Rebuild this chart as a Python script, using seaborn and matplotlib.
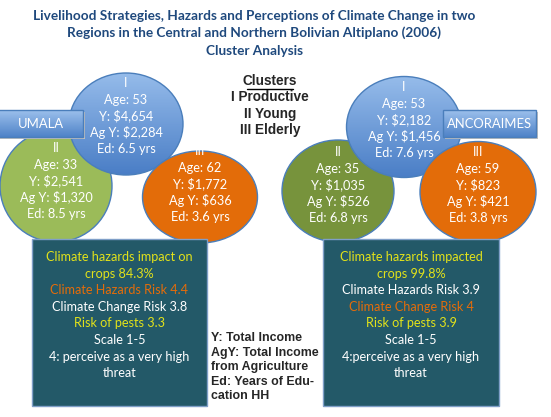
import numpy as np
import matplotlib
matplotlib.use("Agg")
import matplotlib.pyplot as plt
from matplotlib.patches import Ellipse, Rectangle
from matplotlib.colors import LinearSegmentedColormap
import seaborn as sns

# ---------------------------
# Data
# ---------------------------
title_lines = [
    "Livelihood Strategies, Hazards and Perceptions of Climate Change in two",
    "Regions in the Central and Northern Bolivian Altiplano (2006)",
    "Cluster Analysis",
]
regions = ["UMALA", "ANCORAIMES"]
clusters = ["I", "II", "III"]
cluster_names = ["I Productive", "II Young", "III Elderly"]

# UMALA clusters I, II, III
umala_age = [53, 33, 62]
umala_income = [4654, 2541, 1772]
umala_ag_income = [2284, 1320, 636]
umala_educ = [6.5, 8.5, 3.6]

# ANCORAIMES clusters I, II, III
anc_age = [53, 35, 59]
anc_income = [2182, 1035, 823]
anc_ag_income = [1456, 526, 421]
anc_educ = [7.6, 6.8, 3.8]

umala_perception = [
    ("Climate hazards impact on", "yellow"),
    ("crops 84.3%", "yellow"),
    ("Climate Hazards Risk 4.4", "orange"),
    ("Climate Change Risk 3.8", "white"),
    ("Risk of pests 3.3", "yellow"),
    ("Scale 1-5", "white"),
    ("4: perceive as a very high", "white"),
    ("threat", "white"),
]
anc_perception = [
    ("Climate hazards impacted", "yellow"),
    ("crops 99.8%", "yellow"),
    ("Climate Hazards Risk 3.9", "white"),
    ("Climate Change Risk 4", "orange"),
    ("Risk of pests 3.9", "yellow"),
    ("Scale 1-5", "white"),
    ("4:perceive as a very high", "white"),
    ("threat", "white"),
]
definitions = [
    "Y: Total Income",
    "AgY: Total Income",
    "from Agriculture",
    "Ed: Years of Edu-",
    "cation HH",
]

# ---------------------------
# Style / layout
# ---------------------------
sns.set_theme(style="white")
plt.rcParams["font.family"] = ["Lato", "DejaVu Sans"]

txt_col = {"yellow": "#E2E21A", "orange": "#E46C0A", "white": "#FFFFFF"}
blue_cmap = LinearSegmentedColormap.from_list("bl", ["#95BBEA", "#4A7EC6"])
box_cmap = LinearSegmentedColormap.from_list("bx", ["#9CC0EC", "#4F83C8"])

# ellipse geometry (cx, cy, w, h) per cluster for each region
umala_geo = [(126, 124, 114, 102), (56, 186, 112, 112), (200, 197, 115, 92)]
anc_geo = [(404, 127, 115, 101), (338, 191, 112, 102), (478, 192, 116, 101)]
umala_text_y = [83, 148, 151]
anc_text_y = [87, 152, 152]
fills_umala = ["blue", "#9BBB59", "#E36C09"]
fills_anc = ["blue", "#77933C", "#E36C09"]

fig = plt.figure(figsize=(5.51, 4.17), dpi=100)
ax = fig.add_axes([0, 0, 1, 1])


def grad_fill(patch, x0, x1, y0, y1, cmap, z):
    g = np.linspace(0, 1, 64).reshape(-1, 1)
    im = ax.imshow(g, extent=(x0, x1, y1, y0), origin="upper", cmap=cmap,
                   aspect="auto", zorder=z)
    im.set_clip_path(patch)


def draw_region(geo, fills, age, inc, ag, ed, text_y, label, lab_box):
    order = [1, 0, 2]  # green first, then blue, then orange on top
    for k, i in enumerate(order):
        cx, cy, w, h = geo[i]
        z = 2 + k
        if fills[i] == "blue":
            e = Ellipse((cx, cy), w, h, facecolor="none", edgecolor="#4A7EBB",
                        lw=1.0, zorder=z + 0.5)
            ax.add_patch(e)
            clip = Ellipse((cx, cy), w, h, transform=ax.transData)
            ax.add_patch(clip)
            clip.set_visible(False)
            grad_fill(clip, cx - w / 2, cx + w / 2, cy - h / 2, cy + h / 2,
                      blue_cmap, z)
        else:
            e = Ellipse((cx, cy), w, h, facecolor=fills[i], edgecolor="#4A7EBB",
                        lw=1.0, zorder=z)
            ax.add_patch(e)
        lines = [clusters[i], f"Age: {age[i]}", f"Y: ${inc[i]:,}",
                 f"Ag Y: ${ag[i]:,}", f"Ed: {ed[i]} yrs"]
        for j, s in enumerate(lines):
            ax.text(cx, text_y[i] + j * 16.6, s, color="white", fontsize=9.2,
                    ha="center", va="center", zorder=10)
    # region label box
    x0, y0, x1, y1 = lab_box
    ax.add_patch(Rectangle((x0 + 1.5, y0 + 2), x1 - x0, y1 - y0,
                           facecolor="#BFBFBF", edgecolor="none", zorder=7))
    r = Rectangle((x0, y0), x1 - x0, y1 - y0, facecolor="none",
                  edgecolor="#4A7EBB", lw=1.0, zorder=8.5)
    ax.add_patch(r)
    clip = Rectangle((x0, y0), x1 - x0, y1 - y0, transform=ax.transData)
    ax.add_patch(clip)
    clip.set_visible(False)
    grad_fill(clip, x0, x1, y0, y1, box_cmap, 8)
    ax.text((x0 + x1) / 2, (y0 + y1) / 2, label, color="white", fontsize=9.4,
            ha="center", va="center", zorder=10)


draw_region(umala_geo, fills_umala, umala_age, umala_income, umala_ag_income,
            umala_educ, umala_text_y, regions[0], (-2, 110, 83, 137))
draw_region(anc_geo, fills_anc, anc_age, anc_income, anc_ag_income,
            anc_educ, anc_text_y, regions[1], (443, 110, 536, 137))

# perception boxes
for (x0, x1), lines in [((32, 207), umala_perception), ((323, 499), anc_perception)]:
    ax.add_patch(Rectangle((x0, 239), x1 - x0, 167, facecolor="#235968",
                           edgecolor="#7F9FC8", lw=1.0, zorder=9))
    for j, (s, c) in enumerate(lines):
        ax.text((x0 + x1) / 2, 257 + j * 16.6, s, color=txt_col[c],
                fontsize=9.1, ha="center", va="center", zorder=10)

# title
for j, s in enumerate(title_lines):
    ax.text(254, 15.5 + j * 17.5, s, color="#1F497D", fontsize=9.8,
            fontweight="bold", ha="center", va="center")

# cluster legend
ax.text(270, 81, "Clusters", fontsize=9.8, fontweight="bold", ha="center",
        va="center", family="Liberation Sans")
ax.plot([247, 293], [88.5, 88.5], color="black", lw=1.0)
for j, s in enumerate(cluster_names):
    ax.text(270, 97 + j * 16.5, s, fontsize=9.8, fontweight="bold",
            ha="center", va="center", family="Liberation Sans")

# definitions
for j, s in enumerate(definitions):
    ax.text(211, 338 + j * 14.6, s, fontsize=8.9, fontweight="bold",
            ha="left", va="center", family="Liberation Sans")

ax.set_xlim(0, 551)
ax.set_ylim(417, 0)
ax.axis("off")
fig.savefig("out.png", dpi=100, facecolor="white")
